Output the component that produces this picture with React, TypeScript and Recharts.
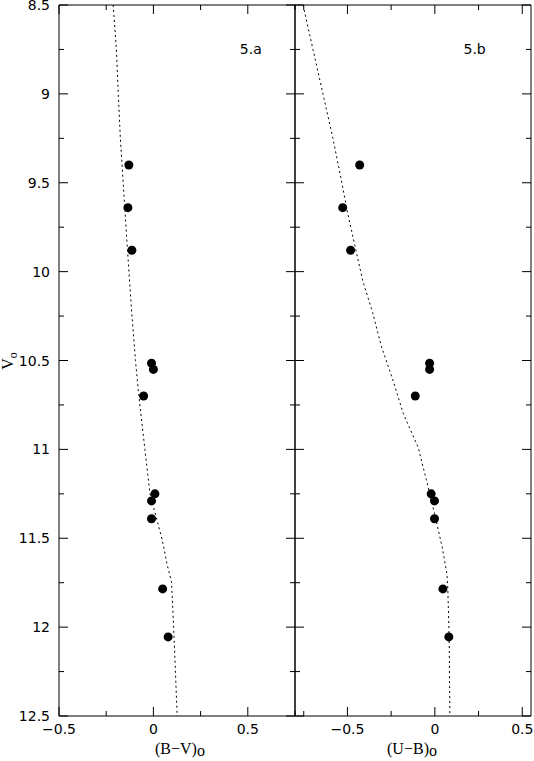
import React from "react";
import { ReferenceArea, ReferenceDot, Scatter, ScatterChart, XAxis, YAxis } from "recharts";

// cluster stars: V0 and the two dereddened colours
const starVo = [9.4, 9.64, 9.88, 10.515, 10.55, 10.7, 11.25, 11.29, 11.39, 11.785, 12.055];
const starBV = [-0.13, -0.135, -0.114, -0.01, 0.0, -0.052, 0.008, -0.01, -0.01, 0.049, 0.078];
const starUB = [-0.43, -0.527, -0.482, -0.03, -0.03, -0.112, -0.021, -0.002, -0.002, 0.046, 0.08];

// dotted isochrone / ZAMS curves
const isoBvVo = [8.5, 8.75, 9.0, 9.25, 9.5, 9.85, 10.2, 10.5, 10.7, 11.0, 11.25, 11.51, 11.65, 11.745, 12.02, 12.5];
const isoBv = [-0.213, -0.196, -0.186, -0.175, -0.16, -0.139, -0.117, -0.095, -0.077, -0.045, -0.018, 0.047, 0.073, 0.096, 0.108, 0.126];
const isoUbVo = [8.5, 8.75, 9.0, 9.25, 9.485, 9.67, 10.05, 10.23, 10.42, 10.61, 10.8, 10.99, 11.17, 11.36, 11.55, 11.7, 11.78, 12.06, 12.5];
const isoUb = [-0.754, -0.697, -0.64, -0.583, -0.535, -0.499, -0.413, -0.356, -0.306, -0.24, -0.18, -0.095, -0.049, -0.002, 0.042, 0.069, 0.074, 0.082, 0.086];

const voTicks = [8.5, 8.75, 9, 9.25, 9.5, 9.75, 10, 10.25, 10.5, 10.75, 11, 11.25, 11.5, 11.75, 12, 12.25, 12.5];
const bvTicks = [-0.5, -0.25, 0, 0.25, 0.5, 0.75];
const ubTicks = [-0.75, -0.5, -0.25, 0, 0.25, 0.5];

const TOP = 5;
const BOTTOM = 716;
const MAJOR = 9;
const MINOR = 5;
const NUM_FONT = "DejaVu Sans";

const isMajor = (v: number) => Math.abs(v * 2 - Math.round(v * 2)) < 1e-6;
const fmt = (v: number) => (v < 0 ? "\u2212" : "") + String(Math.abs(v));

const stars = (c: number[]) => starVo.map((v, i) => ({ c: c[i], v }));
const curve = (c: number[], vo: number[]) => vo.map((v, i) => ({ c: c[i], v }));

const dot = (p: any) => <circle cx={p.cx} cy={p.cy} r={4.5} fill="#000" />;
const none = () => <g />;

function xTick(props: any) {
  const { x, payload } = props;
  const v = payload.value;
  const major = isMajor(v);
  const len = major ? MAJOR : MINOR;
  return (
    <g>
      <line x1={x} x2={x} y1={BOTTOM} y2={BOTTOM - len} stroke="#000" />
      <line x1={x} x2={x} y1={TOP} y2={TOP + len} stroke="#000" />
      {major && (
        <text x={x} y={734} textAnchor="middle" fontFamily={NUM_FONT} fontSize={14} fill="#000">
          {fmt(v)}
        </text>
      )}
    </g>
  );
}

const yTick = (left: number, right: number, labels: boolean) => (props: any) => {
  const { y, payload } = props;
  const v = payload.value;
  const major = isMajor(v);
  const len = major ? MAJOR : MINOR;
  return (
    <g>
      <line x1={left} x2={left + len} y1={y} y2={y} stroke="#000" />
      <line x1={right} x2={right - len} y1={y} y2={y} stroke="#000" />
      {labels && major && (
        <text x={left - 9} y={y + 5} textAnchor="end" fontFamily={NUM_FONT} fontSize={14} fill="#000">
          {fmt(v)}
        </text>
      )}
    </g>
  );
};

const panelLabel = (text: string) => (p: any) => (
  <text x={p.cx} y={p.cy + 5} fontFamily={NUM_FONT} fontSize={14} fill="#000">
    {text}
  </text>
);

function Panel(props: {
  width: number;
  margin: { top: number; right: number; bottom: number; left: number };
  yWidth: number;
  xDomain: [number, number];
  xTicks: number[];
  colour: number[];
  isoC: number[];
  isoVo: number[];
  plotLeft: number;
  plotRight: number;
  labels: boolean;
  tag: string;
  tagX: number;
}) {
  return (
    <ScatterChart width={props.width} height={761} margin={props.margin}>
      <XAxis
        type="number"
        dataKey="c"
        domain={props.xDomain}
        ticks={props.xTicks}
        interval={0}
        allowDataOverflow
        height={45}
        axisLine={false}
        tickLine={false}
        tickSize={0}
        tickMargin={0}
        tick={xTick}
      />
      <YAxis
        type="number"
        dataKey="v"
        domain={[8.5, 12.5]}
        reversed
        ticks={voTicks}
        interval={0}
        allowDataOverflow
        width={props.yWidth}
        axisLine={false}
        tickLine={false}
        tickSize={0}
        tickMargin={0}
        tick={yTick(props.plotLeft, props.plotRight, props.labels)}
      />
      <ReferenceArea
        x1={props.xDomain[0]}
        x2={props.xDomain[1]}
        y1={8.5}
        y2={12.5}
        fill="none"
        stroke="#000"
        strokeWidth={1}
        ifOverflow="visible"
      />
      <Scatter
        data={curve(props.isoC, props.isoVo)}
        line={{ stroke: "#000", strokeWidth: 1, strokeDasharray: "2 3" }}
        shape={none}
        isAnimationActive={false}
      />
      <Scatter data={stars(props.colour)} shape={dot} isAnimationActive={false} />
      <ReferenceDot x={props.tagX} y={8.75} r={0} shape={panelLabel(props.tag)} ifOverflow="visible" />
    </ScatterChart>
  );
}

const titleStyle = { fontFamily: "Liberation Serif", fontSize: 16, fill: "#000" };

export default function App() {
  return (
    <div style={{ position: "absolute", left: 0, top: 0, width: 534, height: 761, background: "#fff" }}>
      <div style={{ position: "absolute", left: 0, top: 0 }}>
        <Panel
          width={300}
          margin={{ top: 5, right: 5, bottom: 0, left: 0 }}
          yWidth={59}
          xDomain={[-0.5, 0.75]}
          xTicks={bvTicks}
          colour={starBV}
          isoC={isoBv}
          isoVo={isoBvVo}
          plotLeft={59}
          plotRight={295}
          labels
          tag="5.a"
          tagX={0.458}
        />
      </div>
      <div style={{ position: "absolute", left: 285, top: 0 }}>
        <Panel
          width={249}
          margin={{ top: 5, right: 3, bottom: 0, left: 0 }}
          yWidth={10}
          xDomain={[-0.8, 0.55]}
          xTicks={ubTicks}
          colour={starUB}
          isoC={isoUb}
          isoVo={isoUbVo}
          plotLeft={10}
          plotRight={246}
          labels={false}
          tag="5.b"
          tagX={0.164}
        />
      </div>
      <svg width={534} height={761} style={{ position: "absolute", left: 0, top: 0, pointerEvents: "none" }}>
        <text x={180} y={754} textAnchor="middle" {...titleStyle}>
          (B{"\u2212"}V)<tspan dy={2}>o</tspan>
        </text>
        <text x={412} y={754} textAnchor="middle" {...titleStyle}>
          (U{"\u2212"}B)<tspan dy={2}>o</tspan>
        </text>
        <text x={13} y={361} textAnchor="middle" transform="rotate(-90 13 361)" {...titleStyle}>
          V<tspan dy={4} fontSize={12}>o</tspan>
        </text>
      </svg>
    </div>
  );
}
